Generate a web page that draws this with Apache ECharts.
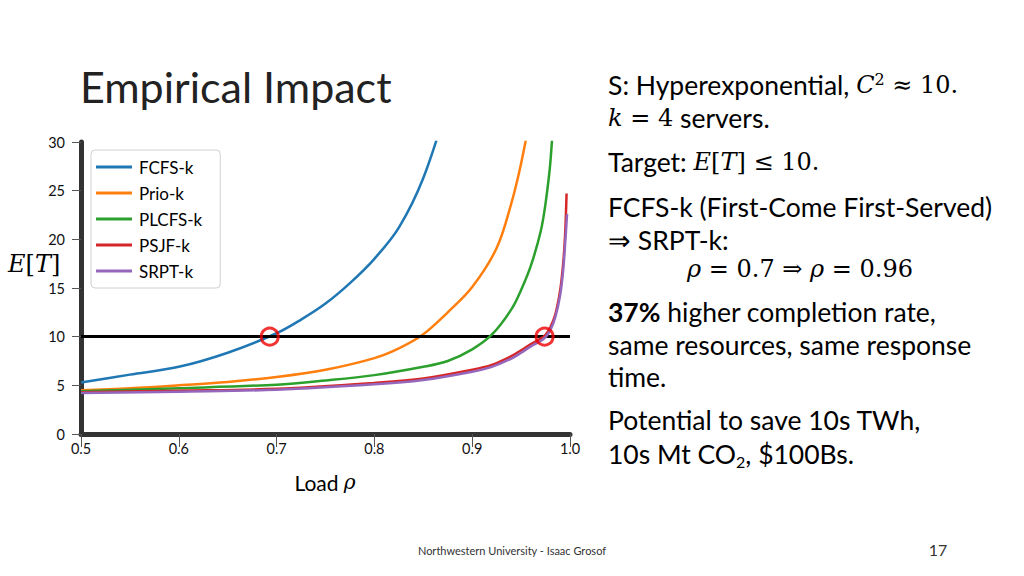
<!DOCTYPE html>
<html><head><meta charset="utf-8">
<script src="https://cdn.jsdelivr.net/npm/echarts@6/dist/echarts.min.js"></script>
<style>html,body{margin:0;padding:0;background:#fff}#c{width:1024px;height:576px}</style>
</head><body><div id="c"></div><script>
// ---- data ----
const seriesNames = ['FCFS-k', 'Prio-k', 'PLCFS-k', 'PSJF-k', 'SRPT-k'];
const fcfsRho = [0.5, 0.55, 0.6, 0.65, 0.7, 0.725, 0.75, 0.775, 0.8, 0.825, 0.85, 0.875];
const fcfsET  = [5.3, 6.1, 6.9, 8.35, 10.35, 11.75, 13.4, 15.5, 18.0, 21.2, 26.3, 34];
const prioRho = [0.5, 0.55, 0.6, 0.65, 0.7, 0.75, 0.8, 0.825, 0.85, 0.875, 0.9, 0.925, 0.94, 0.95, 0.96];
const prioET  = [4.5, 4.7, 5.0, 5.35, 5.85, 6.6, 7.8, 8.8, 10.25, 12.5, 15.1, 19.1, 23.7, 27.8, 33];
const plcfsRho = [0.5, 0.6, 0.7, 0.75, 0.8, 0.85, 0.875, 0.9, 0.92, 0.94, 0.95, 0.96, 0.97, 0.975, 0.98, 0.985];
const plcfsET  = [4.4, 4.7, 5.07, 5.5, 6.05, 6.9, 7.5, 8.7, 10.2, 12.8, 14.8, 17.3, 20.8, 23.7, 28, 36];
const psjfRho = [0.5, 0.6, 0.7, 0.8, 0.85, 0.9, 0.92, 0.94, 0.95, 0.96, 0.97, 0.975, 0.98, 0.985, 0.99, 0.993, 0.995, 0.9965];
const psjfET  = [4.3, 4.45, 4.65, 5.25, 5.7, 6.6, 7.1, 8.0, 8.6, 9.25, 9.8, 10.2, 11.0, 12.3, 14.8, 17.5, 20.5, 24.7];
const srptRho = [0.5, 0.6, 0.7, 0.8, 0.85, 0.9, 0.92, 0.94, 0.95, 0.96, 0.97, 0.975, 0.98, 0.985, 0.99, 0.993, 0.995, 0.997];
const srptET  = [4.2, 4.35, 4.55, 5.1, 5.55, 6.4, 6.9, 7.75, 8.35, 9.0, 9.55, 9.95, 10.7, 12.0, 14.3, 16.8, 19.5, 22.6];
const targetET = 10;
const circleRho = [0.693, 0.974];
const xTicks = { min: 0.5, max: 1.0, step: 0.1 };
const yTicks = { min: 0, max: 30, step: 5 };
const colors = ['#1f77b4', '#ff7f0e', '#2ca02c', '#d62728', '#9467bd'];

const zip = (xs, ys) => xs.map((x, i) => [x, ys[i]]);
const allData = [zip(fcfsRho, fcfsET), zip(prioRho, prioET), zip(plcfsRho, plcfsET), zip(psjfRho, psjfET), zip(srptRho, srptET)];

const SANS = 'Lato';
const SERIF = 'DejaVu Serif';

const chart = echarts.init(document.getElementById('c'), null, { renderer: 'svg' });

const lineSeries = seriesNames.map((n, i) => ({
  name: n, type: 'line', data: allData[i], showSymbol: false,
  smooth: 0.35, clip: true,
  lineStyle: { width: 2.5, color: colors[i] }, itemStyle: { color: colors[i] },
  z: 3 + i, emphasis: { disabled: true }
}));

const txt = (x, y, text, rich, extra) => Object.assign({
  type: 'text', x: x, y: y,
  style: Object.assign({ text: text, rich: rich || {}, font: '26px ' + SANS, fill: '#000', verticalAlign: 'middle', align: 'left' }, extra || {})
});

const rich = {
  n: { fontFamily: SANS, fontSize: 26.5, color: '#000' },
  b: { fontFamily: SANS, fontSize: 26.5, fontWeight: 'bold', color: '#000' },
  i: { fontFamily: SERIF, fontSize: 24, fontStyle: 'italic', color: '#000' },
  r: { fontFamily: SERIF, fontSize: 24, color: '#000' },
  sup: { fontFamily: SERIF, fontSize: 16, color: '#000', verticalAlign: 'top', padding: [0, 0, 12, 0] },
  sub: { fontFamily: SANS, fontSize: 16, color: '#000', padding: [14, 0, 0, 0] }
};

const option = {
  backgroundColor: '#fff',
  animation: false,
  grid: { left: 81, right: 454, top: 142, bottom: 142, containLabel: false },
  legend: {
    data: seriesNames, orient: 'vertical', left: 91, top: 150,
    icon: 'rect', itemWidth: 36, itemHeight: 3, itemGap: 6,
    backgroundColor: '#fff', borderColor: '#d0d0d0', borderWidth: 1, borderRadius: 4,
    padding: [7, 18, 7, 5],
    textStyle: { fontFamily: SANS, fontSize: 17, color: '#000', lineHeight: 20, padding: [0, 0, 0, 2] },
    selectedMode: false
  },
  xAxis: {
    type: 'value', min: xTicks.min, max: xTicks.max, interval: xTicks.step,
    axisLine: { show: true, lineStyle: { color: '#333', width: 5 } },
    axisTick: { show: true, length: 13, inside: false, lineStyle: { color: '#555', width: 1 } },
    axisLabel: { margin: 7, fontFamily: SANS, fontSize: 14.5, color: '#111', formatter: v => v.toFixed(1) },
    splitLine: { show: false }
  },
  yAxis: {
    type: 'value', min: yTicks.min, max: yTicks.max, interval: yTicks.step,
    axisLine: { show: true, lineStyle: { color: '#333', width: 5 } },
    axisTick: { show: true, length: 9, lineStyle: { color: '#555', width: 1 } },
    axisLabel: { margin: 16, fontFamily: SANS, fontSize: 14.5, color: '#111' },
    splitLine: { show: false }
  },
  series: lineSeries.concat([
    {
      name: 'target', type: 'line', data: [], z: 10,
      markLine: {
        silent: true, symbol: 'none', label: { show: false },
        lineStyle: { color: '#000', width: 3, type: 'solid' },
        data: [{ yAxis: targetET }]
      }
    },
    {
      name: 'crossings', type: 'scatter', z: 12,
      data: circleRho.map(r => [r, targetET]),
      symbol: 'circle', symbolSize: 17,
      itemStyle: { color: 'rgba(255,255,255,0)', borderColor: '#ee0000', borderWidth: 3 },
      emphasis: { disabled: true }
    }
  ]),
  graphic: [
    txt(80, 86, 'Empirical Impact', null, { font: '43px ' + SANS, fill: '#222' }),
    txt(8, 264, '{i|E}{r|[}{i|T}{r|]}', rich),
    txt(325, 482, '{n|Load }{i|ρ}', { n: { fontFamily: SANS, fontSize: 21, color: '#000' }, i: { fontFamily: SERIF, fontSize: 20, fontStyle: 'italic', color: '#000' } }, { align: 'center' }),
    txt(608, 85, '{n|S: Hyperexponential, }{i|C}{sup|2}{r| ≈ 10.}', rich),
    txt(608, 118, '{i|k}{r| = 4}{n| servers.}', rich),
    txt(608, 162, '{n|Target: }{i|E}{r|[}{i|T}{r|] ≤ 10.}', rich),
    txt(608, 207, '{n|FCFS-k (First-Come First-Served)}', rich),
    txt(608, 240, '{n|⇒ SRPT-k:}', rich),
    txt(687, 269, '{i|ρ}{r| = 0.7 ⇒ }{i|ρ}{r| = 0.96}', rich),
    txt(608, 312, '{b|37%}{n| higher completion rate,}', rich),
    txt(608, 345, '{n|same resources, same response}', rich),
    txt(608, 377, '{n|time.}', rich),
    txt(608, 420, '{n|Potential to save 10s TWh,}', rich),
    txt(608, 454, '{n|10s Mt CO}{sub|2}{n|, $100Bs.}', rich),
    txt(512, 550, 'Northwestern University - Isaac Grosof', null, { font: '11px ' + SANS, fill: '#333', align: 'center' }),
    txt(938, 549, '17', null, { font: '16px ' + SANS, fill: '#333', align: 'center' })
  ]
};
chart.setOption(option);
</script></body></html>
